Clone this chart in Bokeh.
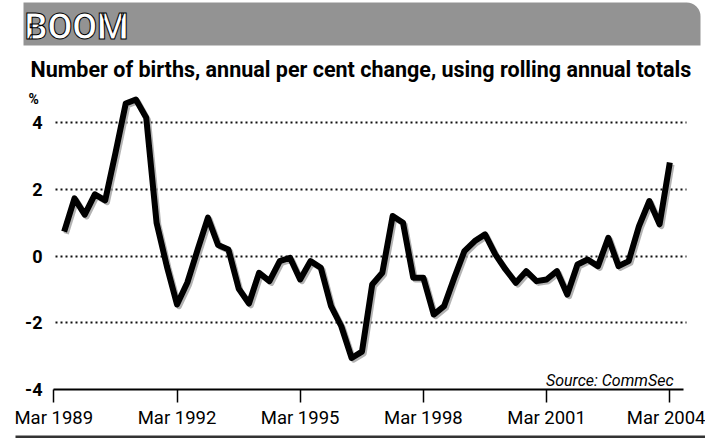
import pandas as pd
from bokeh.plotting import figure
from bokeh.models import Range1d, FixedTicker, DatetimeTickFormatter, Label, BoxAnnotation, ColumnDataSource
from bokeh.embed import file_html
from bokeh.resources import INLINE

# ---- data ----
quarters = pd.date_range("1989-06-01", "2004-03-01", freq="3MS")
births_change = [
    0.73, 1.73, 1.24, 1.85, 1.67, 3.1, 4.57, 4.69, 4.14, 1.0,
    -0.3, -1.45, -0.79, 0.2, 1.15, 0.33, 0.2, -0.98, -1.42, -0.5,
    -0.75, -0.15, -0.05, -0.7, -0.15, -0.35, -1.5, -2.1, -3.05, -2.86,
    -0.85, -0.5, 1.2, 1.0, -0.65, -0.65, -1.75, -1.5, -0.65, 0.15,
    0.45, 0.65, 0.05, -0.4, -0.8, -0.45, -0.75, -0.7, -0.45, -1.15,
    -0.25, -0.1, -0.3, 0.55, -0.3, -0.15, 0.9, 1.65, 0.95, 2.8,
]
x_tick_dates = ["1989-03-01", "1992-03-01", "1995-03-01", "1998-03-01", "2001-03-01", "2004-03-01"]
y_ticks = [-4, -2, 0, 2, 4]
y_tick_labels = {-4: "-4", -2: "-2", 0: "0", 2: "2", 4: "4"}
grid_ticks = [-2, 0, 2, 4]
banner_text = "BOOM"
subtitle = "Number of births, annual per cent change, using rolling annual totals"
unit_text = "%"
source_text = "Source: CommSec"

# ---- geometry (canvas pixels) ----
W, H = 705, 445
PX_PER_UNIT = 33.4
Y4_PX = 122                      # canvas row of the "4" gridline
XFIRST_PX, XLAST_PX = 53.3, 669.3  # canvas columns of first / last date tick
PLOT_L, PLOT_R = 53, 686

def ms(d):
    return pd.Timestamp(d).value / 1e6

t_first, t_last = ms(x_tick_dates[0]), ms(x_tick_dates[-1])
ms_per_px = (t_last - t_first) / (XLAST_PX - XFIRST_PX)
x_start = t_first - XFIRST_PX * ms_per_px
x_end = x_start + W * ms_per_px
y_top = 4 + Y4_PX / PX_PER_UNIT
y_bot = y_top - H / PX_PER_UNIT

def X(cx):
    return x_start + cx * ms_per_px

def Y(cy):
    return y_top - cy / PX_PER_UNIT

FONT = "Roboto"

p = figure(width=W, height=H, output_backend="svg", toolbar_location=None,
           x_axis_type="datetime", x_range=Range1d(x_start, x_end), y_range=Range1d(y_bot, y_top),
           min_border=0, min_border_left=0, min_border_right=0,
           min_border_top=0, min_border_bottom=0)
p.outline_line_color = None
p.background_fill_color = "white"
p.border_fill_color = "white"

# shadow ranges (offset 2px right / 2px down)
p.extra_x_ranges = {"sh": Range1d(x_start - 2 * ms_per_px, x_end - 2 * ms_per_px)}
p.extra_y_ranges = {"sh": Range1d(y_bot + 2 / PX_PER_UNIT, y_top + 2 / PX_PER_UNIT)}

src = ColumnDataSource(dict(x=quarters, y=births_change))
p.line("x", "y", source=src, line_color="#a0a0a0", line_width=5.5, line_alpha=0.8,
       line_join="round", x_range_name="sh", y_range_name="sh")
p.line("x", "y", source=src, line_color="black", line_width=6, line_join="round")

# grid
p.xgrid.visible = False
p.ygrid.ticker = FixedTicker(ticks=grid_ticks)
p.ygrid.grid_line_color = "#111111"
p.ygrid.grid_line_dash = "2 3"
p.ygrid.grid_line_width = 1.8
p.ygrid.cross_bounds = (X(PLOT_L + 2), X(PLOT_R))

# x axis, drawn at y = -4
xa = p.xaxis[0]
xa.fixed_location = y_ticks[0]
xa.bounds = (X(PLOT_L), X(PLOT_R - 3))
xa.ticker = FixedTicker(ticks=[ms(d) for d in x_tick_dates])
xa.formatter = DatetimeTickFormatter(years="%b %Y", months="%b %Y", days="%b %Y",
                                     hours="%b %Y", minutes="%b %Y", seconds="%b %Y")
xa.axis_line_color = "black"
xa.axis_line_width = 2
xa.major_tick_line_color = "black"
xa.major_tick_line_width = 1.5
xa.major_tick_out = 13
xa.major_tick_in = 0
xa.minor_tick_line_color = None
xa.major_label_standoff = 4
xa.major_label_text_font = FONT
xa.major_label_text_font_size = "18.5px"
xa.major_label_text_color = "black"

# y axis, drawn at the left edge of the chart
ya = p.yaxis[0]
ya.fixed_location = X(PLOT_L)
ya.ticker = FixedTicker(ticks=y_ticks)
ya.major_label_overrides = y_tick_labels
ya.axis_line_color = None
ya.major_tick_line_color = None
ya.minor_tick_line_color = None
ya.major_tick_out = 0
ya.major_tick_in = 0
ya.major_label_standoff = 11
ya.major_label_text_font = FONT
ya.major_label_text_font_size = "18px"
ya.major_label_text_font_style = "bold"
ya.major_label_text_color = "black"

# banner
p.add_layout(BoxAnnotation(left=X(23), right=X(700), top=Y(2), bottom=Y(45),
                           fill_color="#939393", fill_alpha=1, line_color=None,
                           border_radius=(0, 14, 0, 0), level="underlay"))
p.add_layout(Label(x=X(24), y=Y(5), text=banner_text, text_baseline="top",
                   text_font=FONT, text_font_size="36px", text_font_style="bold",
                   text_color="white", text_outline_color="black"))
# subtitle
p.add_layout(Label(x=X(30), y=Y(69), text=subtitle, text_baseline="alphabetic",
                   text_font=FONT, text_font_size="21.5px", text_font_style="bold",
                   text_color="black"))
# unit
p.add_layout(Label(x=X(28), y=Y(98), text=unit_text, text_baseline="middle",
                   text_font=FONT, text_font_size="14px", text_font_style="bold",
                   text_color="black"))
# source
p.add_layout(Label(x=X(673), y=Y(380), text=source_text, text_baseline="middle",
                   text_align="right", text_font=FONT, text_font_size="16px",
                   text_font_style="italic", text_color="black"))
# bottom rule
p.add_layout(BoxAnnotation(left=X(15), right=X(W), top=Y(435), bottom=Y(437.5),
                           fill_color="#333333", fill_alpha=1, line_color=None))

open("out.html", "w").write(file_html(p, INLINE))
